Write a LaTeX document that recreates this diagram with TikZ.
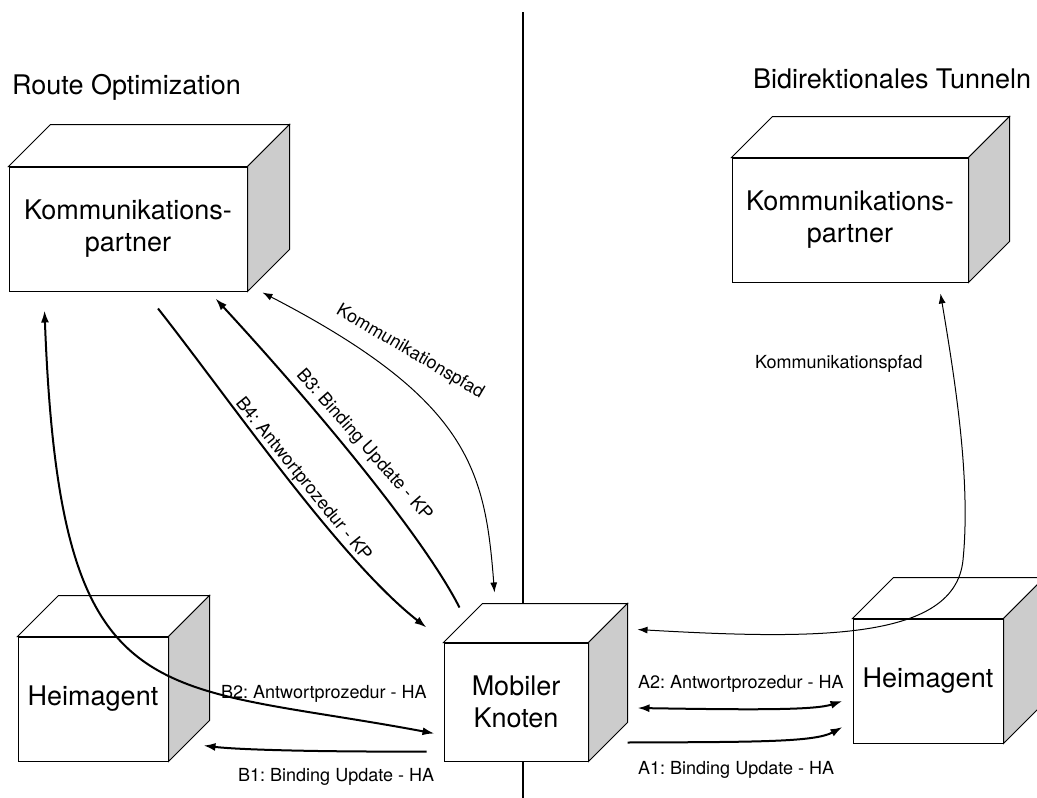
\documentclass[tikz,border=0pt]{standalone}
\usepackage{fontspec}
\setmainfont{TeX Gyre Heros}
\frenchspacing
\usetikzlibrary{arrows.meta,calc}
\definecolor{sidegray}{RGB}{204,204,204}
% top and right faces of a cube whose front face is node #1, depth #2
\newcommand\cubefaces[2]{%
  \draw[face, fill=white] (#1.north west) -- ++(#2,-#2) -- ($(#1.north east)+(#2,-#2)$) -- (#1.north east) -- cycle;
  \draw[face, fill=sidegray] (#1.north east) -- ++(#2,-#2) -- ($(#1.south east)+(#2,-#2)$) -- (#1.south east) -- cycle;
}
\begin{document}
\begin{tikzpicture}[x=1pt,y=-1pt,
  cube/.style={draw, fill=white, line width=1pt, inner sep=0pt, align=center,
    font=\fontsize{27}{32}\selectfont},
  face/.style={draw, line width=1pt, line join=miter},
  title/.style={inner sep=0pt, font=\fontsize{27}{32}\selectfont},
  lbl/.style={inner sep=0pt, font=\fontsize{18}{22}\selectfont},
  heavy/.style={line width=2pt, -{Latex[length=12pt,width=8pt]}},
  heavyboth/.style={line width=2pt, {Latex[length=12pt,width=8pt]}-{Latex[length=12pt,width=8pt]}},
  thinboth/.style={line width=1pt, {Latex[length=10pt,width=7pt]}-{Latex[length=10pt,width=7pt]}}
]
\useasboundingbox (0,0) rectangle (1037,798);
\fill[white] (0,0) rectangle (1037,798);
\clip (0,0) rectangle (1037,798);

% divider between the two scenarios
\coordinate (divtop) at (523,12);
\coordinate (divbot) at (523,798);
\draw[line width=1.1pt] (divtop) -- (divbot);

% titles
\node[title, anchor=base west] (tRO) at (12,94) {Route Optimization};
\node[title, anchor=base west] (tBT) at (753,88) {Bidirektionales Tunneln};

% cubes
\node[cube, minimum width=238pt, minimum height=124pt] (KPL) at (128,229) {Kommunikations-\\partner};
\cubefaces{KPL}{42}
\node[cube, minimum width=236pt, minimum height=124pt] (KPR) at (850,220) {Kommunikations-\\partner};
\cubefaces{KPR}{41}
\node[cube, minimum width=150pt, minimum height=124pt] (HAL) at (93,699) {Heimagent};
\cubefaces{HAL}{41}
\node[cube, minimum width=144pt, minimum height=118pt] (MK) at (516,702) {Mobiler\\Knoten};
\cubefaces{MK}{39}
\node[cube, minimum width=150pt, minimum height=124pt] (HAR) at (928,681) {Heimagent};
\cubefaces{HAR}{41}

% route optimization
\draw[heavyboth] ($(KPL.south west)+(36,19)$) .. controls (60,720) and (150,680) .. ($(MK.south west)+(-9,-28)$);
\draw[heavy] ($(MK.south west)+(-17,-10)$) .. controls (330,752) and (240,750) .. ($(HAL.south east)+(35,-16)$);
\draw[heavy] ($(MK.north west)+(16,-35)$) .. controls (420,530) and (300,390) .. ($(KPL.south east)+(-32,7)$);
\draw[heavy] ($(KPL.south)+(30,17)$) .. controls (230,400) and (340,560) .. ($(MK.north west)+(-17,-15)$);
\draw[thinboth] ($(KPL.south east)+(15,1)$) .. controls (470,400) and (485,470) .. ($(MK.north west)+(51,-50)$);

\node[lbl, anchor=base west] (lB2) at (221,698) {B2: Antwortprozedur - HA};
\node[lbl, anchor=base west] (lB1) at (238,781) {B1: Binding Update - HA};
\node[lbl, rotate=-48.5] (lB3) at (364,445) {B3: Binding Update - KP};
\node[lbl, rotate=-51] (lB4) at (303,480) {B4: Antwortprozedur - KP};
\node[lbl, rotate=-30.3] (lKL) at (410,352) {Kommunikationspfad};

% bidirectional tunnelling
\coordinate (bend) at (963,560);
\draw[thinboth] ($(MK.north east)+(49,-13)$) .. controls (820,640) and (955,640) .. (bend)
  .. controls (971,480) and (955,380) .. ($(KPR.south east)+(-28,11)$);
\draw[heavyboth] ($(MK.east)+(49,6)$) .. controls (760,710) and (815,710) .. ($(HAR.west)+(-10,20)$);
\draw[heavy] ($(MK.south east)+(39,-19)$) .. controls (760,742) and (815,742) .. ($(HAR.west)+(-10,46)$);

\node[lbl, anchor=base west] (lKR) at (755,368) {Kommunikationspfad};
\node[lbl, anchor=base west] (lA2) at (638,688) {A2: Antwortprozedur - HA};
\node[lbl, anchor=base west] (lA1) at (638,774) {A1: Binding Update - HA};
\end{tikzpicture}
\end{document}
